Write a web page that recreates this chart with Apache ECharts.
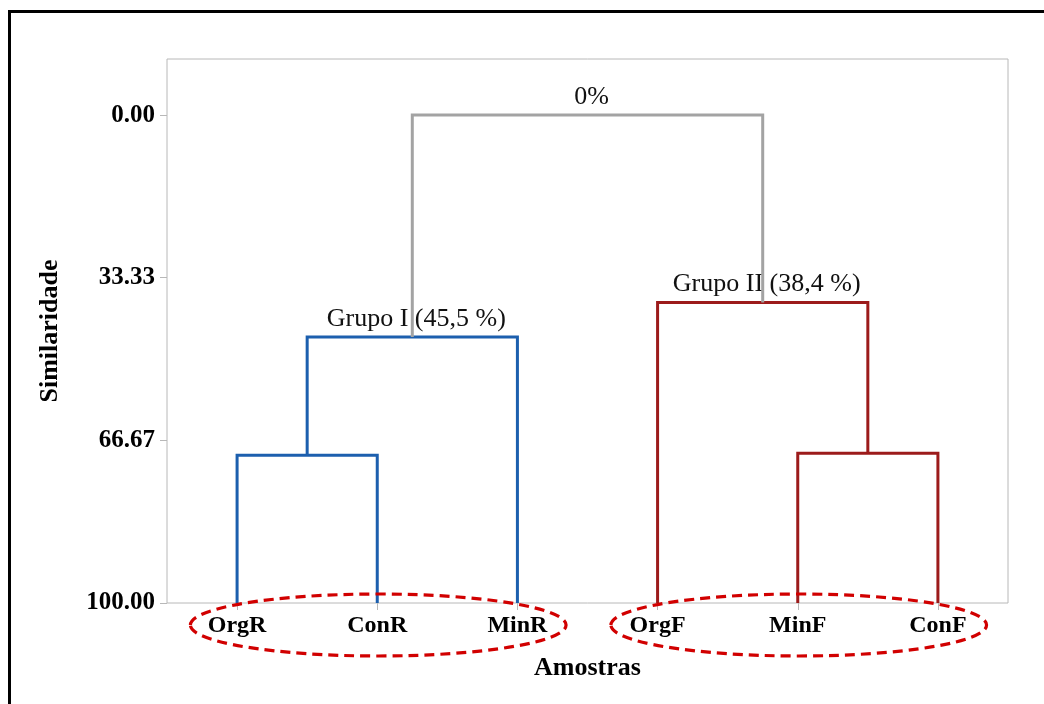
<!DOCTYPE html>
<html>
<head>
<meta charset="utf-8">
<style>
  html, body { margin: 0; padding: 0; background: #fff; }
  #chart { width: 1044px; height: 704px; }
</style>
<script src="https://cdn.jsdelivr.net/npm/echarts@6/dist/echarts.min.js"></script>
</head>
<body>
<div id="chart"></div>
<script>
// Samples on the x axis, in dendrogram leaf order
const samples = ['OrgR', 'ConR', 'MinR', 'OrgF', 'MinF', 'ConF'];

// Similarity tick labels on the y axis
const yTicks = [0, 33.33, 66.67, 100];

// Agglomeration steps: which two nodes merge and at what similarity (%)
const mergeNames  = ['OrgR+ConR', 'Grupo I', 'MinF+ConF', 'Grupo II', 'Raiz'];
const mergeLeft   = ['OrgR', 'OrgR+ConR', 'MinF', 'OrgF', 'Grupo I'];
const mergeRight  = ['ConR', 'MinR', 'ConF', 'MinF+ConF', 'Grupo II'];
const mergeLevel  = [69.7, 45.5, 69.3, 38.4, 0];
const mergeLabels = ['', 'Grupo I (45,5 %)', '', 'Grupo II (38,4 %)', '0%'];

// Sample groups that are circled below the axis
const groupMembers = [['OrgR', 'ConR', 'MinR'], ['OrgF', 'MinF', 'ConF']];

// Branch colour for each cluster
const clusterColor = { 'Grupo I': '#1c5fae', 'Grupo II': '#9c1b1b', 'Raiz': '#a3a3a3' };

const LEAF_LEVEL = 100;
const SERIF = '"Liberation Serif", "Times New Roman", serif';

// Node position (in leaf-index units) and height
const nodes = {};
samples.forEach((s, i) => { nodes[s] = { pos: i, level: LEAF_LEVEL }; });
mergeNames.forEach((name, i) => {
  const l = nodes[mergeLeft[i]], r = nodes[mergeRight[i]];
  nodes[name] = { pos: (l.pos + r.pos) / 2, level: mergeLevel[i] };
});

// Each merge is coloured by the top cluster it belongs to
function topCluster(name) {
  for (const key of ['Grupo I', 'Grupo II']) {
    const stack = [key];
    while (stack.length) {
      const n = stack.pop();
      if (n === name) return key;
      const k = mergeNames.indexOf(n);
      if (k >= 0) stack.push(mergeLeft[k], mergeRight[k]);
    }
  }
  return 'Raiz';
}

const linkData = mergeNames.map((name, i) => {
  const l = nodes[mergeLeft[i]], r = nodes[mergeRight[i]];
  return {
    value: [l.pos, r.pos, l.level, r.level, mergeLevel[i]],
    label: mergeLabels[i],
    color: clusterColor[topCluster(name)]
  };
});

const groupData = groupMembers.map(g => {
  const idx = g.map(s => samples.indexOf(s));
  const lo = Math.min(...idx), hi = Math.max(...idx);
  return [(lo + hi) / 2, (hi - lo) / 2];
});

const chart = echarts.init(document.getElementById('chart'), null, { renderer: 'canvas' });

chart.setOption({
  animation: false,
  backgroundColor: '#fff',
  grid: {
    left: 167, right: 36, top: 59, bottom: 101,
    show: true, borderColor: '#b8b8b8', borderWidth: 1, backgroundColor: 'transparent'
  },
  graphic: [{
    type: 'rect',
    shape: { x: 9.5, y: 11.5, width: 1100, height: 800 },
    style: { fill: 'none', stroke: '#000', lineWidth: 3 },
    silent: true
  }],
  xAxis: [{
    type: 'category',
    data: samples,
    boundaryGap: true,
    position: 'bottom',
    axisLine: { show: false, onZero: false },
    axisTick: { show: true, alignWithLabel: true, length: 7, lineStyle: { color: '#b8b8b8' } },
    axisLabel: { margin: 11, color: '#000', fontFamily: SERIF, fontWeight: 'bold', fontSize: 24 },
    name: 'Amostras',
    nameLocation: 'middle',
    nameGap: 52,
    nameTextStyle: { color: '#000', fontFamily: SERIF, fontWeight: 'bold', fontSize: 26 }
  }, {
    type: 'value',
    min: -0.5, max: samples.length - 0.5,
    show: false,
    axisLine: { onZero: false }
  }],
  yAxis: {
    type: 'value',
    inverse: true,
    position: 'left',
    min: -11.5, max: 100,
    splitLine: { show: false },
    axisLine: { show: false, onZero: false },
    axisTick: { show: true, length: 7, customValues: yTicks, lineStyle: { color: '#b8b8b8' } },
    axisLabel: {
      customValues: yTicks, margin: 12,
      formatter: v => v.toFixed(2),
      color: '#000', fontFamily: SERIF, fontWeight: 'bold', fontSize: 25
    },
    name: 'Similaridade',
    nameLocation: 'middle',
    nameGap: 104,
    nameRotate: 90,
    nameTextStyle: { color: '#000', fontFamily: SERIF, fontWeight: 'bold', fontSize: 26 }
  },
  series: [{
    type: 'custom',
    name: 'dendrograma',
    xAxisIndex: 1,
    data: linkData,
    clip: false,
    renderItem: (params, api) => {
      const d = linkData[params.dataIndex];
      const [lx, rx, lb, rb, lv] = d.value;
      const p1 = api.coord([lx, lb]), p2 = api.coord([lx, lv]);
      const p3 = api.coord([rx, lv]), p4 = api.coord([rx, rb]);
      const children = [{
        type: 'polyline',
        shape: { points: [p1, p2, p3, p4] },
        style: { stroke: d.color, lineWidth: 3, fill: 'none', lineJoin: 'miter' }
      }];
      if (d.label) {
        children.push({
          type: 'text',
          style: {
            text: d.label, x: (p2[0] + p3[0]) / 2 + 4, y: p2[1] - 5,
            align: 'center', verticalAlign: 'bottom',
            fill: '#111', font: '26px ' + SERIF
          }
        });
      }
      return { type: 'group', children };
    }
  }, {
    type: 'custom',
    name: 'grupos',
    xAxisIndex: 1,
    data: groupData,
    clip: false,
    renderItem: (params, api) => {
      const c = api.coord([api.value(0), LEAF_LEVEL]);
      const half = api.size([api.value(1) + 0.34, 0])[0];
      return {
        type: 'ellipse',
        shape: { cx: c[0] + 1, cy: c[1] + 22, rx: half, ry: 31 },
        style: { fill: 'none', stroke: '#d10000', lineWidth: 3.2, lineDash: [10, 6] }
      };
    }
  }]
});
</script>
</body>
</html>
